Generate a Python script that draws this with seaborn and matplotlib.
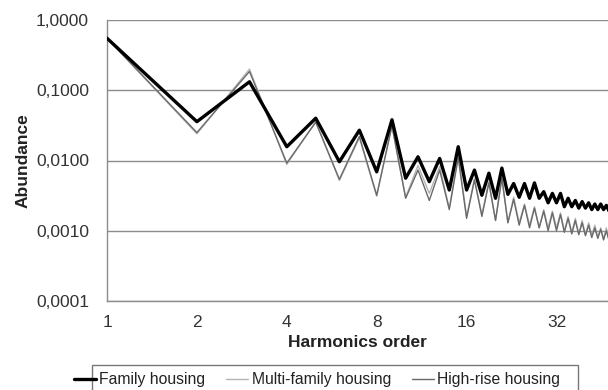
import numpy as np
import pandas as pd
import matplotlib
matplotlib.use("Agg")
import matplotlib.pyplot as plt
from matplotlib.patches import Rectangle
from matplotlib.ticker import FixedLocator, FuncFormatter, NullLocator
import seaborn as sns

# Harmonic orders 1..49
orders = list(range(1, 50))

family_housing = [
    0.55, 0.0357, 0.132, 0.0157, 0.040, 0.0096, 0.027, 0.0069, 0.038, 0.0056,
    0.0113, 0.0050, 0.0107, 0.0038, 0.0157, 0.0038, 0.0073, 0.0032, 0.0066, 0.0029,
    0.0078, 0.0033, 0.0047, 0.0030, 0.0047, 0.0029, 0.0048, 0.0029, 0.0036, 0.0025,
    0.0034, 0.0025, 0.0034, 0.0022, 0.0029, 0.0022, 0.0027, 0.0021, 0.0026, 0.0021,
    0.0025, 0.0020, 0.0024, 0.0020, 0.0024, 0.0020, 0.0023, 0.0019, 0.0023,
]

multi_family_housing = [
    0.55, 0.024, 0.200, 0.0088, 0.036, 0.0052, 0.021, 0.0031, 0.032, 0.0030,
    0.0085, 0.0034, 0.0082, 0.0021, 0.0120, 0.0016, 0.0055, 0.0017, 0.0050, 0.0014,
    0.0058, 0.0013, 0.0030, 0.0013, 0.0024, 0.0012, 0.0022, 0.0011, 0.0020, 0.0011,
    0.0019, 0.0011, 0.0018, 0.0010, 0.0016, 0.00095, 0.0015, 0.0009, 0.0014, 0.00088,
    0.0013, 0.00085, 0.0012, 0.0008, 0.0011, 0.00076, 0.0011, 0.00074, 0.0010,
]

high_rise_housing = [
    0.55, 0.025, 0.185, 0.0092, 0.035, 0.0054, 0.022, 0.0032, 0.031, 0.0029,
    0.0073, 0.0027, 0.0073, 0.0020, 0.0110, 0.0015, 0.0053, 0.0016, 0.0048, 0.0014,
    0.0056, 0.0013, 0.0028, 0.0012, 0.0023, 0.0011, 0.0021, 0.0011, 0.0019, 0.0010,
    0.0018, 0.0010, 0.0017, 0.00095, 0.0015, 0.0009, 0.0014, 0.00088, 0.0013, 0.00085,
    0.0012, 0.0008, 0.0011, 0.00078, 0.00105, 0.00074, 0.001, 0.00072, 0.00095,
]

series_names = ["Family housing", "Multi-family housing", "High-rise housing"]
x_ticks = [1, 2, 4, 8, 16, 32]
y_ticks = [0.0001, 0.001, 0.01, 0.1, 1.0]

df = pd.DataFrame({
    "order": orders * 3,
    "abundance": family_housing + multi_family_housing + high_rise_housing,
    "series": [series_names[0]] * len(orders)
    + [series_names[1]] * len(orders)
    + [series_names[2]] * len(orders),
})

sns.set_theme(style="white")
plt.rcParams["font.family"] = ["Liberation Sans", "DejaVu Sans"]

W, H = 608, 390
fig = plt.figure(figsize=(W / 100, H / 100), dpi=100)
ax = fig.add_axes([107 / W, 1 - 301 / H, 1 - 107 / W, (301 - 20) / H])

styles = {
    "Family housing": ("#000000", 2.4, 3),
    "Multi-family housing": ("#b4b4b4", 1.0, 1),
    "High-rise housing": ("#6a6a6a", 1.0, 2),
}
for name in series_names:
    color, lw, z = styles[name]
    sns.lineplot(data=df[df["series"] == name], x="order", y="abundance",
                 color=color, linewidth=lw, ax=ax, label=name, zorder=z)

ax.set_xscale("log", base=2)
ax.set_yscale("log")
ax.set_xlim(1, 47.6)
ax.set_ylim(0.0001, 1.0)

ax.xaxis.set_major_locator(FixedLocator(x_ticks))
ax.xaxis.set_minor_locator(NullLocator())
ax.xaxis.set_major_formatter(FuncFormatter(lambda v, p: f"{int(round(v))}"))
ax.yaxis.set_major_locator(FixedLocator(y_ticks))
ax.yaxis.set_minor_locator(NullLocator())
ax.yaxis.set_major_formatter(FuncFormatter(lambda v, p: f"{v:.4f}".replace(".", ",")))

ax.grid(axis="y", color="#8c8c8c", linewidth=1.0)
ax.grid(axis="x", visible=False)
ax.set_axisbelow(True)

for side in ["top", "right"]:
    ax.spines[side].set_visible(False)
for side in ["left", "bottom"]:
    ax.spines[side].set_color("#8c8c8c")
    ax.spines[side].set_linewidth(1.0)

ax.tick_params(axis="both", which="major", direction="inout", length=10, width=1,
               color="#8c8c8c", labelsize=12.5, labelcolor="#333333")
ax.tick_params(axis="x", pad=5)
ax.tick_params(axis="y", pad=8)

ax.set_xlabel("Harmonics order", fontsize=12.5, fontweight="bold", color="#222222", labelpad=4)
ax.set_ylabel("Abundance", fontsize=12.5, fontweight="bold", color="#222222", labelpad=4)

# Legend: plain entries inside a separately drawn box along the bottom edge
ax.get_legend().remove()
handles, labels = ax.get_legend_handles_labels()
fig.patches.append(Rectangle((92 / W, 1 - 398 / H), (578 - 92) / W, (398 - 365) / H,
                             transform=fig.transFigure, facecolor="none",
                             edgecolor="#777777", linewidth=1.0, zorder=5))
leg = fig.legend(handles, labels, loc="center left",
                 bbox_to_anchor=(74 / W, 1 - 379.5 / H),
                 ncol=3, fontsize=11.3, frameon=False,
                 handlelength=1.4, handletextpad=0.2,
                 borderpad=0.0, borderaxespad=0.0, columnspacing=1.35)
for t in leg.get_texts():
    t.set_color("#222222")

fig.savefig("out.png", dpi=100)
